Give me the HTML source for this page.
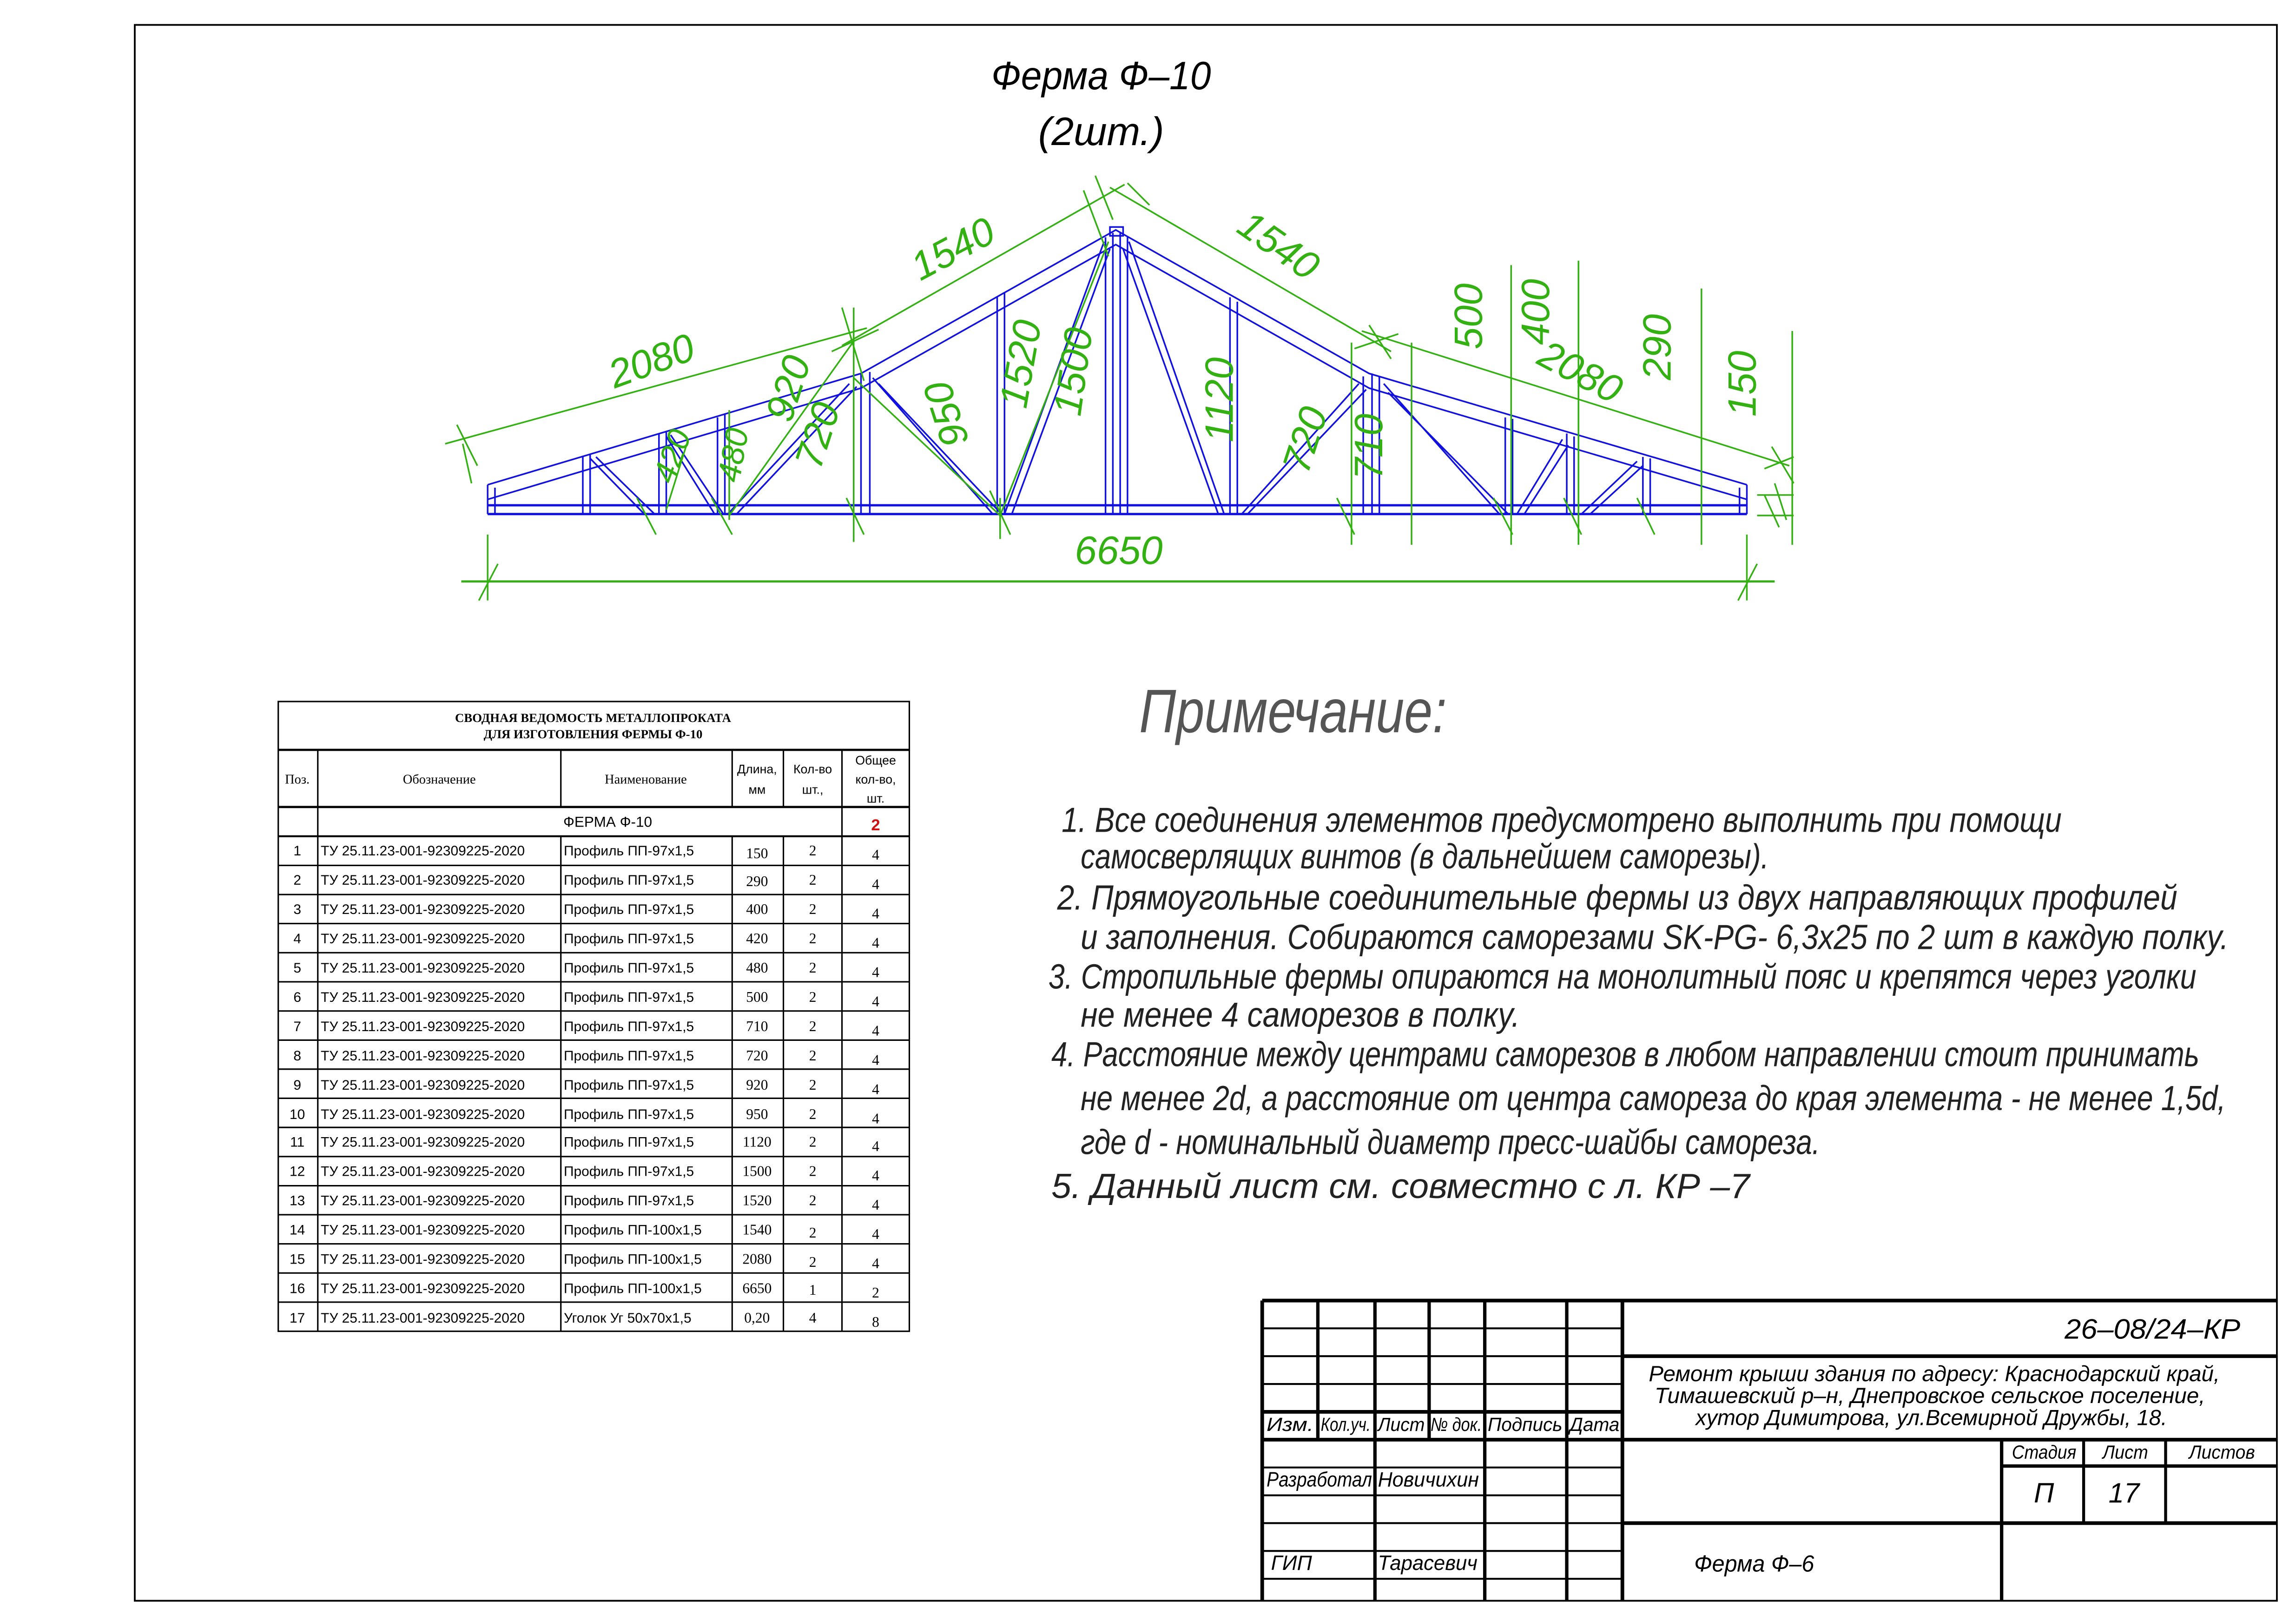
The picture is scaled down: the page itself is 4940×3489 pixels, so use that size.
<!DOCTYPE html>
<html><head><meta charset="utf-8"><style>html,body{margin:0;padding:0;background:#fff}svg{display:block}</style></head>
<body>
<svg width="4940" height="3489" viewBox="0 0 1568 1107.5" xmlns="http://www.w3.org/2000/svg" font-family="Liberation Sans, sans-serif">
<rect x="0" y="0" width="1568" height="1107.5" fill="#fff"/>
<rect x="92" y="17" width="1463" height="1076" fill="none" stroke="#000" stroke-width="1.2"/>

<!-- Title -->
<text x="752" y="61" font-size="27" font-style="italic" text-anchor="middle" textLength="150" lengthAdjust="spacingAndGlyphs">Ферма  Ф–10</text>
<text x="752" y="99" font-size="27" font-style="italic" text-anchor="middle" textLength="86" lengthAdjust="spacingAndGlyphs">(2шт.)</text>

<!-- Truss blue -->
<g stroke="#1010e0" stroke-width="1.1" fill="none">
<polyline points="333,331 588,255 762,157 935,255 1193,331"/>
<polyline points="333,341 588,265 762,167 935,265 1193,341"/>
<line x1="333" y1="345" x2="1193" y2="345" stroke-width="1.6"/>
<line x1="333" y1="351" x2="1193" y2="351" stroke-width="1.6"/>
<line x1="333" y1="331" x2="333" y2="351"/><line x1="338" y1="333" x2="338" y2="351"/>
<line x1="1193" y1="331" x2="1193" y2="351"/><line x1="1188" y1="333" x2="1188" y2="351"/>
<!-- verticals -->
<path d="M398,312V351M403,310V351 M450,296V351M455,295V351 M490,285V351M495,283V351 M583,257V351M588,255V351M594,254V351 M681,203V351M686,200V351 M755,162V351M760,159V351M765,159V351M770,162V351 M840,203V351M845,206V351 M931,257V351M937,255V351M942,257V351 M1028,285V351M1033,286V351 M1070,296V351M1075,298V351 M1122,312V351M1127,313V351"/>
<!-- diagonals -->
<path d="M403,313L440,351M407,312L447,351 M455,298L488,351M458,297L494,351 M497,351L580,262M503,351L585,264 M596,258L678,351M600,262L684,351 M686,351L754,165M691,351L758,170 M771,165L836,351M767,170L832,351 M848,351L928,262M852,351L933,266 M945,262L1024,351M948,268L1030,351 M1036,351L1067,300M1041,351L1071,304 M1080,351L1118,315M1086,351L1122,318"/>
<rect x="758" y="155" width="9" height="6"/>
</g>

<!-- Green dimensions -->
<g stroke="#33b012" stroke-width="1.1" fill="none">
<line x1="304" y1="303" x2="592" y2="224"/>
<line x1="575" y1="236" x2="768" y2="126"/>
<line x1="758" y1="128" x2="950" y2="240"/>
<line x1="930" y1="226" x2="1222" y2="318"/>
<line x1="315" y1="397" x2="1212" y2="397" stroke-width="1.5"/>
<line x1="333" y1="365" x2="333" y2="410"/><line x1="1193" y1="365" x2="1193" y2="410"/>
<line x1="327" y1="410" x2="340" y2="385"/><line x1="1187" y1="410" x2="1200" y2="385"/>
<path d="M923,234V372M964,234V372M1032,181V372M1078,178V372M1162,197V372M1224,226V372"/>
<path d="M583,210V370M498,280V355M683,340V368"/>
<line x1="583" y1="233" x2="498" y2="352"/>
<line x1="583" y1="258" x2="683" y2="352"/>
<line x1="757" y1="165" x2="683" y2="352"/>
<line x1="740" y1="130" x2="757" y2="175"/>
<line x1="470" y1="300" x2="455" y2="348"/>
<!-- ticks -->
<path d="M312,290L326,318M316,303L322,330 M575,210L590,260M568,240L600,225 M748,120L760,150M770,125L785,140 M935,222L950,245M925,238L955,228 M1210,305L1225,330M1205,320L1225,312 M578,340L590,365M676,335L690,365M435,340L448,365M486,340L500,365M913,340L925,365M1020,340L1033,365M1068,340L1080,365M1118,340L1130,365M1205,338L1215,360M1212,330L1220,355M1200,352H1225M1200,338H1225"/>
</g>
<g fill="#33b012" font-size="27" font-style="italic">
<text transform="translate(448,255) rotate(-20)" text-anchor="middle">2080</text>
<text transform="translate(655,178) rotate(-28)" text-anchor="middle">1540</text>
<text transform="translate(868,175) rotate(35)" text-anchor="middle">1540</text>
<text transform="translate(1075,262) rotate(28)" text-anchor="middle">2080</text>
<text transform="translate(764,385)" text-anchor="middle">6650</text>
<text transform="translate(1012,216) rotate(-90)" text-anchor="middle">500</text>
<text transform="translate(1058,213) rotate(-90)" text-anchor="middle">400</text>
<text transform="translate(1141,237) rotate(-90)" text-anchor="middle">290</text>
<text transform="translate(1199,262) rotate(-90)" text-anchor="middle">150</text>
<text transform="translate(842,273) rotate(-90)" text-anchor="middle">1120</text>
<text transform="translate(900,303) rotate(-72)" text-anchor="middle">720</text>
<text transform="translate(944,305) rotate(-90)" text-anchor="middle">710</text>
<text transform="translate(547,268) rotate(-72)" text-anchor="middle">920</text>
<text transform="translate(567,300) rotate(-72)" text-anchor="middle">720</text>
<text transform="translate(655,280) rotate(-108)" text-anchor="middle">950</text>
<text transform="translate(706,250) rotate(-80)" text-anchor="middle">1520</text>
<text transform="translate(742,255) rotate(-82)" text-anchor="middle">1500</text>
<text transform="translate(508,312) rotate(-80)" font-size="22" text-anchor="middle">480</text>
<text transform="translate(466,314) rotate(-70)" font-size="22" text-anchor="middle">420</text>
</g>

<!-- Table -->
<g stroke="#000" stroke-width="1" fill="none">
<rect x="190" y="479" width="431" height="430"/>
<line x1="190" y1="512" x2="621" y2="512" stroke-width="1.5"/>
<line x1="190" y1="551" x2="621" y2="551" stroke-width="1.5"/>
<line x1="190" y1="571" x2="621" y2="571" stroke-width="1.3"/>
<path d="M217,512V909M383,512V551M500,512V551M535,512V551M575,512V909M383,571V909M500,571V909M535,571V909"/>
<path d="M190,590.9H621M190,610.8H621M190,630.6H621M190,650.5H621M190,670.4H621M190,690.3H621M190,710.2H621M190,730H621M190,749.9H621M190,769.8H621M190,789.7H621M190,809.6H621M190,829.4H621M190,849.3H621M190,869.2H621M190,889.1H621"/>
</g>
<g font-family="Liberation Serif, serif" font-size="8.5" font-weight="bold" text-anchor="middle">
<text x="405" y="493">СВОДНАЯ ВЕДОМОСТЬ  МЕТАЛЛОПРОКАТА</text>
<text x="405" y="504">ДЛЯ  ИЗГОТОВЛЕНИЯ ФЕРМЫ  Ф-10</text>
</g>
<g font-family="Liberation Serif, serif" font-size="9" text-anchor="middle">
<text x="203" y="535">Поз.</text><text x="300" y="535">Обозначение</text><text x="441" y="535">Наименование</text>
</g>
<g font-size="8.5" text-anchor="middle">
<text x="517" y="528">Длина,</text><text x="517" y="542">мм</text>
<text x="555" y="528">Кол-во</text><text x="555" y="542">шт.,</text>
<text x="598" y="522">Общее</text><text x="598" y="535">кол-во,</text><text x="598" y="548">шт.</text>
<text x="415" y="564.5" font-size="10">ФЕРМА   Ф-10</text>
<text x="598" y="567" font-size="11" font-weight="bold" fill="#d01010">2</text>
</g>
<g font-size="9.5">
<g text-anchor="middle"><text x="203" y="584">1</text><text x="203" y="604">2</text><text x="203" y="624">3</text><text x="203" y="644">4</text><text x="203" y="664">5</text><text x="203" y="684">6</text><text x="203" y="704">7</text><text x="203" y="724">8</text><text x="203" y="744">9</text><text x="203" y="764">10</text><text x="203" y="783">11</text><text x="203" y="803">12</text><text x="203" y="823">13</text><text x="203" y="843">14</text><text x="203" y="863">15</text><text x="203" y="883">16</text><text x="203" y="903">17</text></g>
<g><text x="219" y="584">ТУ 25.11.23-001-92309225-2020</text><text x="219" y="604">ТУ 25.11.23-001-92309225-2020</text><text x="219" y="624">ТУ 25.11.23-001-92309225-2020</text><text x="219" y="644">ТУ 25.11.23-001-92309225-2020</text><text x="219" y="664">ТУ 25.11.23-001-92309225-2020</text><text x="219" y="684">ТУ 25.11.23-001-92309225-2020</text><text x="219" y="704">ТУ 25.11.23-001-92309225-2020</text><text x="219" y="724">ТУ 25.11.23-001-92309225-2020</text><text x="219" y="744">ТУ 25.11.23-001-92309225-2020</text><text x="219" y="764">ТУ 25.11.23-001-92309225-2020</text><text x="219" y="783">ТУ 25.11.23-001-92309225-2020</text><text x="219" y="803">ТУ 25.11.23-001-92309225-2020</text><text x="219" y="823">ТУ 25.11.23-001-92309225-2020</text><text x="219" y="843">ТУ 25.11.23-001-92309225-2020</text><text x="219" y="863">ТУ 25.11.23-001-92309225-2020</text><text x="219" y="883">ТУ 25.11.23-001-92309225-2020</text><text x="219" y="903">ТУ 25.11.23-001-92309225-2020</text></g>
<g><text x="385" y="604" y="584">Профиль  ПП-97х1,5</text><text x="385" y="584">Профиль  ПП-97х1,5</text><text x="385" y="624">Профиль  ПП-97х1,5</text><text x="385" y="644">Профиль  ПП-97х1,5</text><text x="385" y="664">Профиль  ПП-97х1,5</text><text x="385" y="684">Профиль  ПП-97х1,5</text><text x="385" y="704">Профиль  ПП-97х1,5</text><text x="385" y="724">Профиль  ПП-97х1,5</text><text x="385" y="744">Профиль  ПП-97х1,5</text><text x="385" y="764">Профиль  ПП-97х1,5</text><text x="385" y="783">Профиль  ПП-97х1,5</text><text x="385" y="803">Профиль  ПП-97х1,5</text><text x="385" y="823">Профиль  ПП-97х1,5</text><text x="385" y="843">Профиль  ПП-100х1,5</text><text x="385" y="863">Профиль  ПП-100х1,5</text><text x="385" y="883">Профиль  ПП-100х1,5</text><text x="385" y="903">Уголок  Уг 50х70х1,5</text></g>
</g>
<g font-family="Liberation Serif, serif" font-size="10" text-anchor="middle">
<g><text x="517" y="586">150</text><text x="517" y="605">290</text><text x="517" y="624">400</text><text x="517" y="644">420</text><text x="517" y="664">480</text><text x="517" y="684">500</text><text x="517" y="704">710</text><text x="517" y="724">720</text><text x="517" y="744">920</text><text x="517" y="764">950</text><text x="517" y="783">1120</text><text x="517" y="803">1500</text><text x="517" y="823">1520</text><text x="517" y="843">1540</text><text x="517" y="863">2080</text><text x="517" y="883">6650</text><text x="517" y="903">0,20</text></g>
<g><text x="555" y="584">2</text><text x="555" y="604">2</text><text x="555" y="624">2</text><text x="555" y="644">2</text><text x="555" y="664">2</text><text x="555" y="684">2</text><text x="555" y="704">2</text><text x="555" y="724">2</text><text x="555" y="744">2</text><text x="555" y="764">2</text><text x="555" y="783">2</text><text x="555" y="803">2</text><text x="555" y="823">2</text><text x="555" y="845">2</text><text x="555" y="865">2</text><text x="555" y="884">1</text><text x="555" y="903">4</text></g>
<g><text x="598" y="587">4</text><text x="598" y="607">4</text><text x="598" y="627">4</text><text x="598" y="647">4</text><text x="598" y="667">4</text><text x="598" y="687">4</text><text x="598" y="707">4</text><text x="598" y="727">4</text><text x="598" y="747">4</text><text x="598" y="767">4</text><text x="598" y="786">4</text><text x="598" y="806">4</text><text x="598" y="826">4</text><text x="598" y="846">4</text><text x="598" y="866">4</text><text x="598" y="886">2</text><text x="598" y="906">8</text></g>
</g>

<!-- Notes -->
<text x="778" y="500" font-size="42" font-style="italic" fill="#555" textLength="210" lengthAdjust="spacingAndGlyphs" font-weight="normal">Примечание:</text>
<g font-size="24" font-style="italic" fill="#222">
<text x="725" y="568" textLength="683" lengthAdjust="spacingAndGlyphs">1. Все соединения  элементов  предусмотрено  выполнить  при  помощи</text>
<text x="738" y="593" textLength="470" lengthAdjust="spacingAndGlyphs">самосверлящих винтов  (в дальнейшем саморезы).</text>
<text x="722" y="621" textLength="765" lengthAdjust="spacingAndGlyphs">2. Прямоугольные  соединительные  фермы  из  двух  направляющих  профилей</text>
<text x="738" y="648" textLength="784" lengthAdjust="spacingAndGlyphs">и  заполнения. Собираются саморезами SK-PG- 6,3х25  по 2 шт  в  каждую  полку.</text>
<text x="716" y="675" textLength="784" lengthAdjust="spacingAndGlyphs">3.  Стропильные фермы опираются на монолитный пояс  и  крепятся через уголки</text>
<text x="738" y="701" textLength="300" lengthAdjust="spacingAndGlyphs">не менее  4  саморезов в полку.</text>
<text x="718" y="728" textLength="784" lengthAdjust="spacingAndGlyphs">4.  Расстояние между центрами саморезов в любом направлении стоит принимать</text>
<text x="738" y="758" textLength="782" lengthAdjust="spacingAndGlyphs">не менее 2d, а расстояние от центра самореза до края элемента - не менее 1,5d,</text>
<text x="738" y="788" textLength="505" lengthAdjust="spacingAndGlyphs">где d - номинальный диаметр пресс-шайбы самореза.</text>
<text x="718" y="818" textLength="477" lengthAdjust="spacingAndGlyphs">5. Данный  лист  см.  совместно  с  л.  КР –7</text>
</g>

<!-- Title block -->
<g stroke="#000" fill="none">
<line x1="862" y1="888" x2="1555" y2="888" stroke-width="2.5"/>
<line x1="862" y1="888" x2="862" y2="1093" stroke-width="2.5"/>
<path d="M900,888V983M976,888V983M939,888V1093M1014,888V1093M1070,888V1093" stroke-width="2.3"/>
<line x1="1108" y1="888" x2="1108" y2="1093" stroke-width="2.5"/>
<path d="M862,907H1108M862,926H1108M862,945H1108M862,1002H1108M862,1021H1108M862,1040H1108M862,1059H1108M862,1078H1108" stroke-width="1.3"/>
<line x1="862" y1="964" x2="1108" y2="964" stroke-width="2.5"/>
<line x1="862" y1="983" x2="1555" y2="983" stroke-width="2.5"/>
<line x1="1108" y1="926" x2="1555" y2="926" stroke-width="2.5"/>
<line x1="1108" y1="1040" x2="1555" y2="1040" stroke-width="2.5"/>
<line x1="1367" y1="983" x2="1367" y2="1093" stroke-width="2.3"/>
<path d="M1423,983V1040M1479,983V1040" stroke-width="2"/>
<line x1="1367" y1="1001" x2="1555" y2="1001" stroke-width="2.3"/>
</g>
<g font-style="italic" font-size="13" fill="#000">
<text x="1410" y="914" font-size="19" textLength="120" lengthAdjust="spacingAndGlyphs">26–08/24–КР</text>
<text x="1126" y="943" font-size="15" textLength="390" lengthAdjust="spacingAndGlyphs">Ремонт крыши здания по адресу:  Краснодарский край,</text>
<text x="1130" y="958" font-size="15" textLength="376" lengthAdjust="spacingAndGlyphs">Тимашевский р–н, Днепровское сельское поселение,</text>
<text x="1158" y="973" font-size="15" textLength="322" lengthAdjust="spacingAndGlyphs">хутор Димитрова, ул.Всемирной Дружбы, 18.</text>
<text x="865" y="977" textLength="32" lengthAdjust="spacingAndGlyphs">Изм.</text>
<text x="902" y="977" textLength="34" lengthAdjust="spacingAndGlyphs">Кол.уч.</text>
<text x="941" y="977" textLength="32" lengthAdjust="spacingAndGlyphs">Лист</text>
<text x="977" y="977" textLength="35" lengthAdjust="spacingAndGlyphs">№ док.</text>
<text x="1016" y="977" textLength="51" lengthAdjust="spacingAndGlyphs">Подпись</text>
<text x="1072" y="977" textLength="34" lengthAdjust="spacingAndGlyphs">Дата</text>
<text x="865" y="1015" font-size="14" textLength="72" lengthAdjust="spacingAndGlyphs">Разработал</text>
<text x="941" y="1015" font-size="14" textLength="69" lengthAdjust="spacingAndGlyphs">Новичихин</text>
<text x="868" y="1072" font-size="14" textLength="28" lengthAdjust="spacingAndGlyphs">ГИП</text>
<text x="941" y="1072" font-size="14" textLength="68" lengthAdjust="spacingAndGlyphs">Тарасевич</text>
<text x="1374" y="996" textLength="44" lengthAdjust="spacingAndGlyphs">Стадия</text>
<text x="1436" y="996" textLength="31" lengthAdjust="spacingAndGlyphs">Лист</text>
<text x="1495" y="996" textLength="45" lengthAdjust="spacingAndGlyphs">Листов</text>
<text x="1389" y="1026" font-size="19">П</text>
<text x="1440" y="1026" font-size="19">17</text>
<text x="1157" y="1073" font-size="16" textLength="82" lengthAdjust="spacingAndGlyphs">Ферма Ф–6</text>
</g>
</svg>
</body></html>
